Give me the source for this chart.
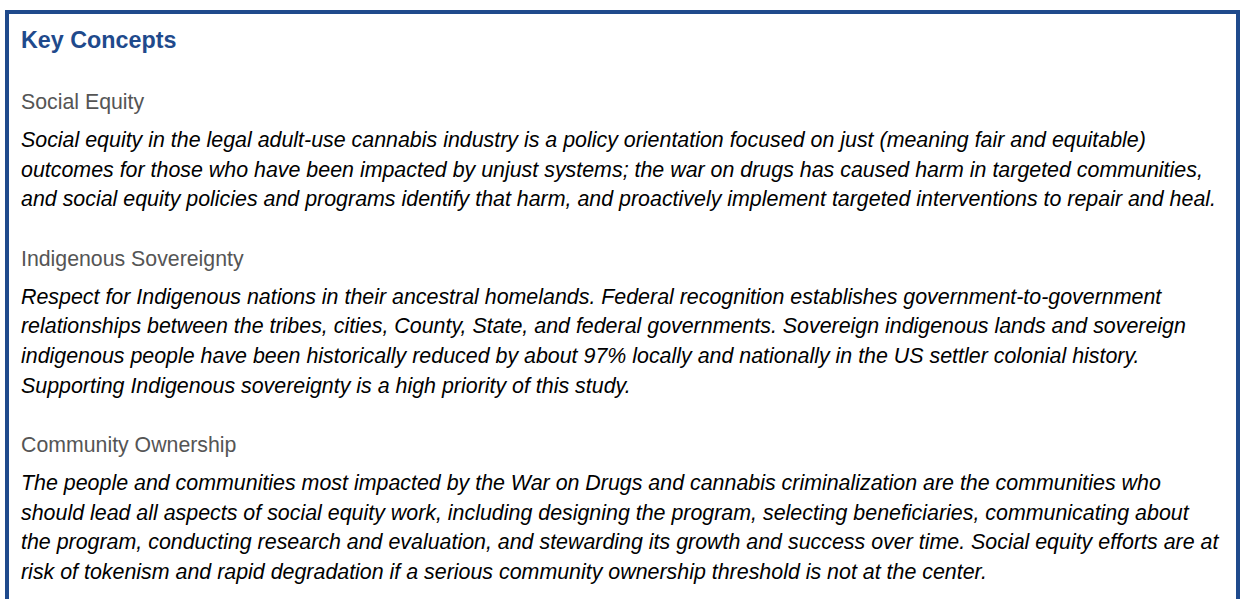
<!DOCTYPE html>
<html>
<head>
<meta charset="utf-8">
<script src="https://cdn.jsdelivr.net/npm/chart.js@4"></script>
<style>
  html, body { margin: 0; padding: 0; background: #fff; }
  body { width: 1245px; height: 599px; overflow: hidden; position: relative; font-family: "Liberation Sans", Arial, sans-serif; }
  .box {
    position: absolute; left: 5px; top: 10px; width: 1215px; height: 620px;
    border: 4px solid #1f4a8c; border-bottom: none; padding: 0 0 0 12px;
  }
  .title { margin-top: 11px; line-height: 30px; height: 30px; font-size: 23.3px; font-weight: bold; color: #1f4a8c; }
  .concept { margin-top: 29px; }
  .concept:first-of-type { margin-top: 32px; }
  .heading { line-height: 30px; height: 30px; font-size: 21.3px; color: #555; }
  .text { margin-top: 9px; font-size: 21.4px; font-style: italic; color: #000; line-height: 29.6px; white-space: nowrap; }
</style>
</head>
<body>
<div class="box">
  <div class="title" id="title"></div>
  <div id="concepts"></div>
</div>
<script>
const titulo = 'Key Concepts';
const encabezados = ['Social Equity', 'Indigenous Sovereignty', 'Community Ownership'];
const textoEquidad = [
  'Social equity in the legal adult-use cannabis industry is a policy orientation focused on just (meaning fair and equitable)',
  'outcomes for those who have been impacted by unjust systems; the war on drugs has caused harm in targeted communities,',
  'and social equity policies and programs identify that harm, and proactively implement targeted interventions to repair and heal.'
];
const textoSoberania = [
  'Respect for Indigenous nations in their ancestral homelands. Federal recognition establishes government-to-government',
  'relationships between the tribes, cities, County, State, and federal governments. Sovereign indigenous lands and sovereign',
  'indigenous people have been historically reduced by about 97% locally and nationally in the US settler colonial history.',
  'Supporting Indigenous sovereignty is a high priority of this study.'
];
const textoPropiedad = [
  'The people and communities most impacted by the War on Drugs and cannabis criminalization are the communities who',
  'should lead all aspects of social equity work, including designing the program, selecting beneficiaries, communicating about',
  'the program, conducting research and evaluation, and stewarding its growth and success over time. Social equity efforts are at',
  'risk of tokenism and rapid degradation if a serious community ownership threshold is not at the center.'
];
const textos = [textoEquidad, textoSoberania, textoPropiedad];

document.getElementById('title').textContent = titulo;
const contenedor = document.getElementById('concepts');
encabezados.forEach((encabezado, i) => {
  const bloque = document.createElement('div');
  bloque.className = 'concept';
  const h = document.createElement('div');
  h.className = 'heading';
  h.textContent = encabezado;
  const p = document.createElement('div');
  p.className = 'text';
  textos[i].forEach((linea, j) => {
    if (j) p.appendChild(document.createElement('br'));
    p.appendChild(document.createTextNode(linea));
  });
  bloque.append(h, p);
  contenedor.appendChild(bloque);
});
</script>
</body>
</html>
